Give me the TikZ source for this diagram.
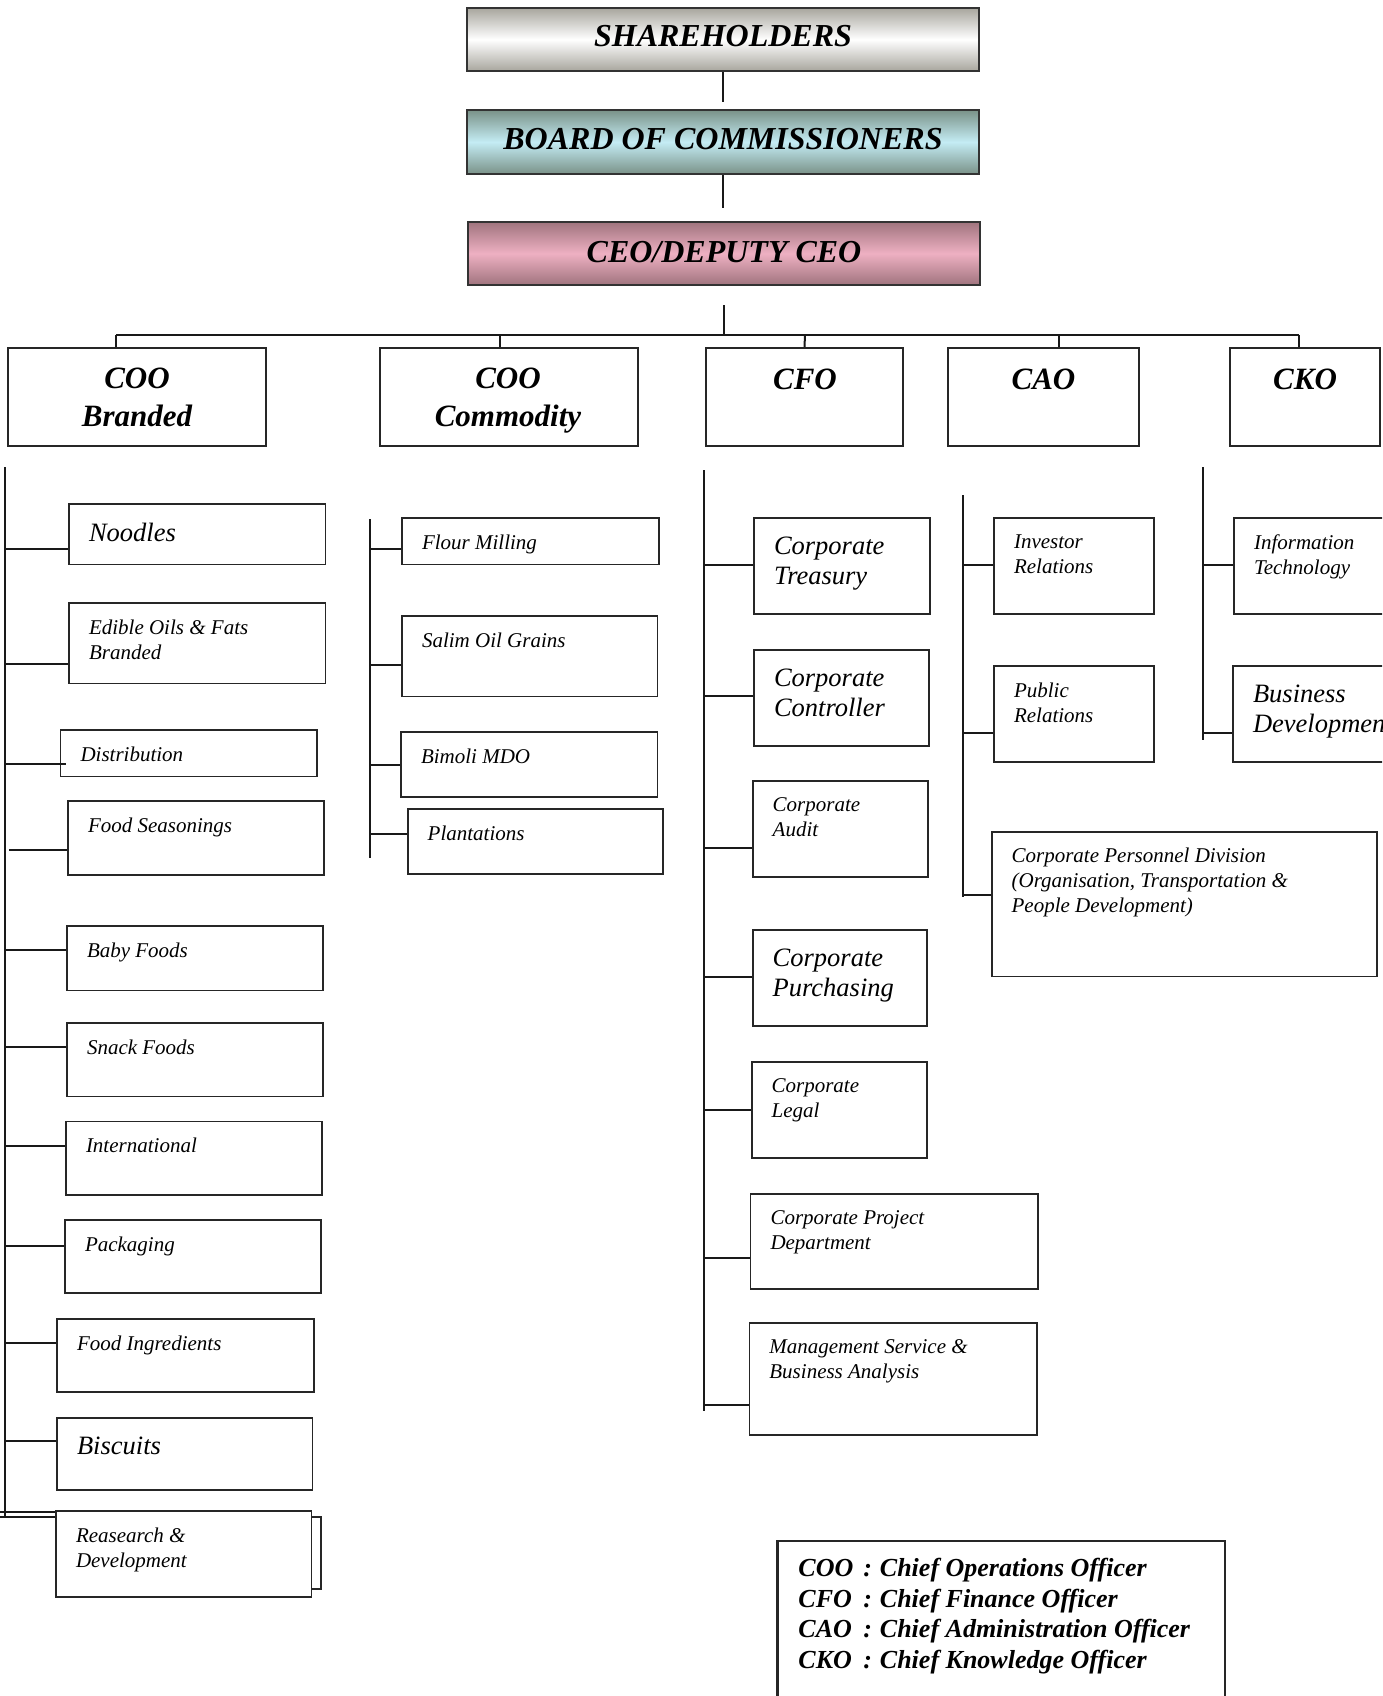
\documentclass[tikz,border=0pt]{standalone}
\usepackage{fontspec}
\setmainfont{Liberation Serif}
\usetikzlibrary{fit,calc}
\definecolor{shEdge}{RGB}{168,166,158}
\definecolor{bdEdge}{RGB}{122,146,136}
\definecolor{bdMid}{RGB}{196,236,244}
\definecolor{ceoEdge}{RGB}{160,116,126}
\definecolor{ceoMid}{RGB}{238,176,194}
\tikzset{
  ubx/.style={draw=black!85, line width=0.9pt, inner sep=0pt},
  lvbox/.style={draw=black!85, line width=1.2pt, inner sep=0pt},
  topbox/.style={draw=black!80, line width=1.2pt, inner sep=0pt},
  cn/.style={draw=black!90, line width=1pt},
  sm/.style={font=\itshape\fontsize{10.5}{12.5}\selectfont},
  lg/.style={font=\itshape\fontsize{13.25}{15}\selectfont},
  utx/.style={inner sep=0pt, align=left, anchor=north west},
  hd/.style={font=\bfseries\itshape\fontsize{15.5}{19}\selectfont, align=center, inner sep=0pt},
  ttl/.style={font=\bfseries\itshape\fontsize{16}{19}\selectfont, inner sep=0pt},
}
\newcommand\orgS[6]{%
  \node[ubx, fit={(#2,#3)(#4,#5)}] (#1) {};
  \node[utx, sm] (#1-t) at ($(#1.north west)+(20.5,17)$) {#6};}
\newcommand\orgL[6]{%
  \node[ubx, fit={(#2,#3)(#4,#5)}] (#1) {};
  \node[utx, lg] (#1-t) at ($(#1.north west)+(20.5,19.5)$) {#6};}
\newcommand\cnx[3]{\draw[cn] (#1 |- 0,#3) -- (#2.west |- 0,#3);}
\begin{document}
\begin{tikzpicture}[x=0.5pt,y=-0.5pt]
\useasboundingbox (0,0) rectangle (1382,1696);
\clip (0,0) rectangle (1382,1696);
\fill[white] (0,0) rectangle (1382,1696);

% top chain
\node[topbox, fit={(467,8)(979,71)}, top color=shEdge, bottom color=shEdge, middle color=white] (sh) {};
\node[ttl] (sh-t) at (723,35.7) {SHAREHOLDERS};
\node[topbox, fit={(467,110)(979,174)}, top color=bdEdge, bottom color=bdEdge, middle color=bdMid] (bd) {};
\node[ttl] (bd-t) at (723,139.5) {BOARD OF COMMISSIONERS};
\node[topbox, fit={(468,222)(980,285)}, top color=ceoEdge, bottom color=ceoEdge, middle color=ceoMid] (ceo) {};
\node[ttl] (ceo-t) at (724,252) {CEO/DEPUTY CEO};
\draw[cn] (sh.south) -- ($(bd.north)+(0,-7)$);
\draw[cn] (bd.south) -- ($(bd.south)+(0,33)$);

% bus
\coordinate (busL) at (116,335);
\coordinate (busR) at (1299,335);
\draw[cn] (busL) -- (busR);
\draw[cn] ($(ceo.south)+(0,19)$) -- (ceo.south |- busL);

% level 2
\node[lvbox, fit={(8,348)(266,446)}] (coob) {};
\node[hd] (coob-t) at (137,397.5) {COO\\Branded};
\node[lvbox, fit={(380,348)(638,446)}] (cooc) {};
\node[hd] (cooc-t) at (508,401) {COO\\Commodity};
\node[lvbox, fit={(706,348)(903,446)}] (cfo) {};
\node[hd] (cfo-t) at (805,379) {CFO};
\node[lvbox, fit={(948,348)(1139,446)}] (cao) {};
\node[hd] (cao-t) at (1043.5,379.5) {CAO};
\node[lvbox, fit={(1230,348)(1380,446)}] (cko) {};
\node[hd] (cko-t) at (1305,379.5) {CKO};
\draw[cn] (busL) -- (busL |- coob.north);
\draw[cn] (500,335) -- (500,335 |- cooc.north);
\draw[cn] (805,335) -- (cfo.north);
\draw[cn] (1059,335) -- (1059,335 |- cao.north);
\draw[cn] (busR) -- (busR |- cko.north);

% trunks
\coordinate (tA) at (5,467);   \coordinate (tAb) at (5,1517);
\coordinate (tB) at (370,519); \coordinate (tBb) at (370,857.5);
\coordinate (tC) at (704,470); \coordinate (tCb) at (704,1411);
\coordinate (tD) at (962.5,495); \coordinate (tDb) at (962.5,896.5);
\coordinate (tE) at (1202.5,467); \coordinate (tEb) at (1202.5,740);
\draw[cn] (tA) -- (tAb);
\draw[cn] (tB) -- (tBb);
\draw[cn] (tC) -- (tCb);
\draw[cn] (tD) -- (tDb);
\draw[cn] (tE) -- (tEb);

% COO Branded children
\orgL{noodles}{69}{504}{325.5}{564.5}{Noodles}
\orgS{edible}{69}{603}{325.5}{683.5}{Edible Oils \& Fats\\Branded}
\orgS{distrib}{60.5}{730}{317}{776.5}{Distribution}
\orgS{seas}{68}{801}{324}{875}{Food Seasonings}
\orgS{baby}{67}{926}{323}{990.5}{Baby Foods}
\orgS{snack}{67}{1023}{323}{1096.5}{Snack Foods}
\orgS{intl}{66}{1121.5}{322}{1195}{International}
\orgS{pack}{65}{1220}{321}{1293}{Packaging}
\orgS{ingr}{57}{1319}{313.6}{1392}{Food Ingredients}
\orgL{bisc}{57}{1418}{312.5}{1490}{Biscuits}
\orgS{rnd}{56}{1511}{311.5}{1597}{Reasearch \&\\Development}
\draw[ubx] ($(rnd.north east)+(0,7)$) -- ++(8.5,0) -- ++(0,72) -- ++(-8.5,0);
\cnx{tA}{noodles}{549}
\cnx{tA}{edible}{664}
\draw[cn] (tA |- 0,763.5) -- ($(distrib.west |- 0,763.5)+(6,0)$);
\draw[cn] ($(tA |- 0,850)+(4,0)$) -- (seas.west |- 0,850);
\cnx{tA}{baby}{949.5}
\cnx{tA}{snack}{1047}
\cnx{tA}{intl}{1146}
\cnx{tA}{pack}{1246}
\cnx{tA}{ingr}{1343}
\cnx{tA}{bisc}{1440.5}
\coordinate (rndL) at (0,1512);
\coordinate (rndL2) at (0,1516.5);
\draw[cn] (rndL) -- (rnd.west |- rndL);
\draw[cn] (rndL2) -- (rnd.west |- rndL2);

% COO Commodity children
\orgS{flour}{402}{518}{658.6}{564.5}{Flour Milling}
\orgS{salim}{402}{616}{657.5}{696.5}{Salim Oil Grains}
\orgS{bimoli}{401}{732}{657.5}{797}{Bimoli MDO}
\orgS{plant}{407.7}{809}{663}{874}{Plantations}
\cnx{tB}{flour}{549}
\cnx{tB}{salim}{665}
\cnx{tB}{bimoli}{764.5}
\cnx{tB}{plant}{834}

% CFO children
\orgL{treas}{754}{518}{930}{614}{Corporate\\Treasury}
\orgL{ctrl}{754}{650}{929}{746}{Corporate\\Controller}
\orgS{audit}{752.7}{781}{928}{877}{Corporate\\Audit}
\orgL{purch}{752.7}{930}{927}{1026}{Corporate\\Purchasing}
\orgS{legal}{751.6}{1062}{927}{1158}{Corporate\\Legal}
\orgS{proj}{750.5}{1194}{1038}{1289}{Corporate Project\\Department}
\orgS{mgmt}{749.4}{1322.6}{1037}{1435}{Management Service \&\\Business Analysis}
\cnx{tC}{treas}{564.5}
\cnx{tC}{ctrl}{696}
\cnx{tC}{audit}{848}
\cnx{tC}{purch}{976.5}
\cnx{tC}{legal}{1109.5}
\cnx{tC}{proj}{1258}
\cnx{tC}{mgmt}{1405}

% CAO children
\orgS{inv}{994}{518}{1154}{614}{Investor\\Relations}
\orgS{pub}{994}{666}{1154}{762}{Public\\Relations}
\orgS{pers}{991.6}{831.6}{1376.6}{976.5}{Corporate Personnel Division\\(Organisation, Transportation \&\\People Development)}
\cnx{tD}{inv}{564.5}
\cnx{tD}{pub}{733}
\cnx{tD}{pers}{895.4}

% CKO children (cut off by the right edge, as in the reference)
\orgS{it}{1234}{518}{1400}{614}{Information\\Technology}
\orgL{bdev}{1233}{666}{1400}{762}{Business\\Development}
\cnx{tE}{it}{564.5}
\cnx{tE}{bdev}{733}

% legend
\node[lvbox, fit={(777.5,1541)(1225,1712)}] (leg) {};
\node[inner sep=0pt, anchor=north west, font=\bfseries\itshape\fontsize{13}{15.25}\selectfont] (leg-t) at (798,1555)
{\begin{tabular}{@{}l@{\hspace{5pt}:\hspace{4pt}}l@{}}
COO & Chief Operations Officer\\
CFO & Chief Finance Officer\\
CAO & Chief Administration Officer\\
CKO & Chief Knowledge Officer
\end{tabular}};
\end{tikzpicture}
\end{document}
